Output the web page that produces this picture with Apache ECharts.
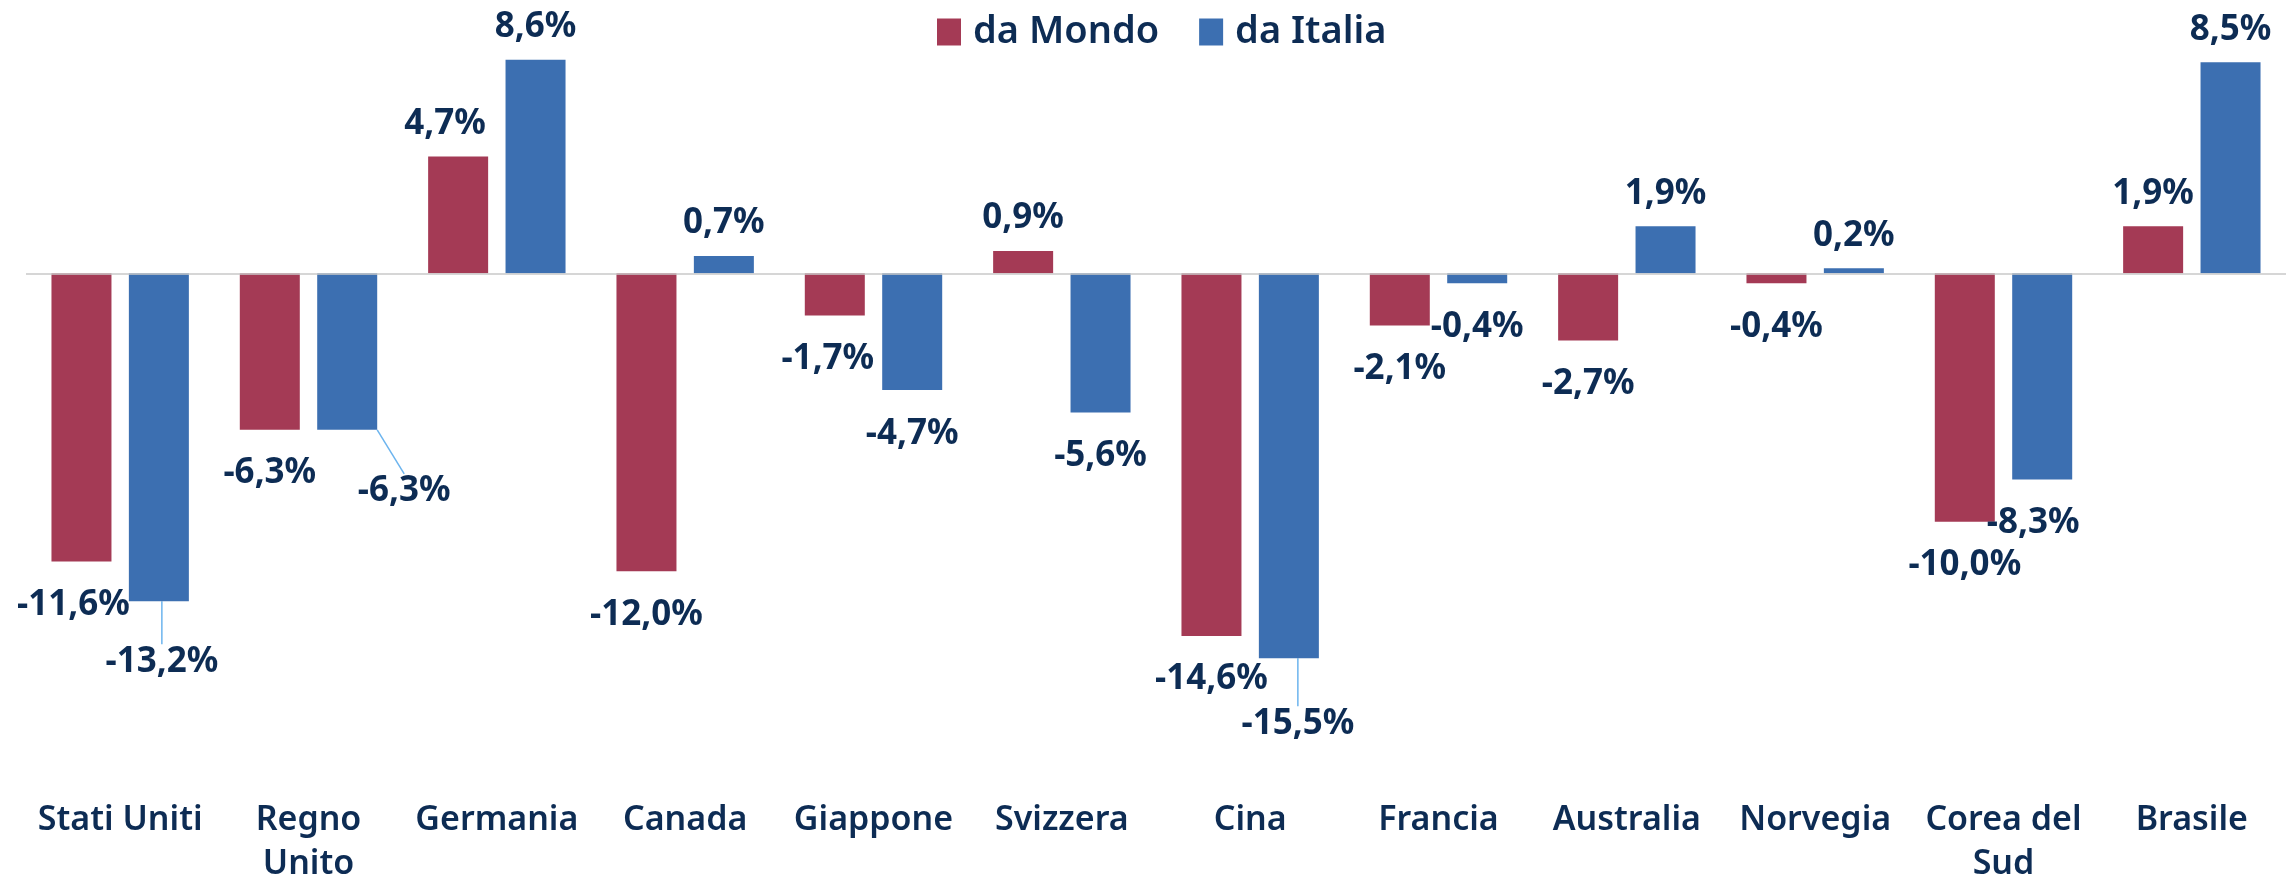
<!DOCTYPE html>
<html>
<head>
<meta charset="utf-8">
<script src="https://cdn.jsdelivr.net/npm/echarts@6/dist/echarts.min.js"></script>
<style>
  html, body { margin: 0; padding: 0; background: #fff; }
  #chart { width: 2293px; height: 876px; }
</style>
</head>
<body>
<div id="chart"></div>
<script>
// dati
var categories = ['Stati Uniti', 'Regno\nUnito', 'Germania', 'Canada', 'Giappone', 'Svizzera',
                  'Cina', 'Francia', 'Australia', 'Norvegia', 'Corea del\nSud', 'Brasile'];
var daMondo  = [-11.6, -6.3, 4.7, -12.0, -1.7, 0.9, -14.6, -2.1, -2.7, -0.4, -10.0, 1.9];
var daItalia = [-13.2, -6.3, 8.6, 0.7, -4.7, -5.6, -15.5, -0.4, 1.9, 0.2, -8.3, 8.5];

var navy = '#0d2c54';
// spostamenti delle etichette (come nell'originale), [dx, dy] in px
var shiftMondo  = { 0: [-8, 0], 2: [-13, 0], 4: [-7, 0] };
var shiftItalia = { 0: [3, 17], 1: [57, 18], 6: [9, 22], 10: [-9, 0] };
var leaderItalia = [0, 1, 6];

function fmt(p) {
    return p.value.toFixed(1).replace('.', ',') + '%';
}

function buildData(values, leaders) {
    return values.map(function (v, i) {
        var item = {
            value: v,
            label: { position: v >= 0 ? 'top' : 'bottom', distance: v >= 0 ? 15 : 26 }
        };
        if (leaders && leaders.indexOf(i) >= 0) {
            item.labelLine = { show: true, lineStyle: { color: '#6cb4ee', width: 1.5 } };
        }
        return item;
    });
}

var labelStyle = {
    show: true,
    formatter: fmt,
    color: navy,
    fontFamily: 'Noto Sans',
    fontWeight: 'bold',
    fontSize: 35
};

var myChart = echarts.init(document.getElementById('chart'));
var option = {
    animation: false,
    legend: {
        top: 8,
        left: 932,
        icon: 'rect',
        itemWidth: 24,
        itemHeight: 27,
        itemGap: 40,
        textStyle: { color: navy, fontSize: 38, fontFamily: 'Noto Sans', fontWeight: 600, padding: [0, 0, 0, 7] },
        data: ['da Mondo', 'da Italia']
    },
    grid: { left: 26, right: 7, top: 25, bottom: 106, outerBoundsMode: 'none' },
    xAxis: {
        type: 'category',
        data: categories,
        axisLine: { show: false, onZero: false },
        axisTick: { show: false },
        axisLabel: {
            margin: 28,
            color: navy,
            fontSize: 34,
            fontFamily: 'Noto Sans',
            fontWeight: 600,
            lineHeight: 44,
            interval: 0
        }
    },
    yAxis: {
        type: 'value',
        min: -20,
        max: 10,
        show: false,
        splitLine: { show: false }
    },
    series: [
        {
            name: 'da Mondo',
            type: 'bar',
            barWidth: 60,
            barGap: '29%',
            itemStyle: { color: '#a43a55' },
            label: labelStyle,
            labelLayout: function (p) {
                var s = shiftMondo[p.dataIndex];
                return s ? { dx: s[0], dy: s[1] } : {};
            },
            data: buildData(daMondo),
            markLine: {
                silent: true,
                symbol: 'none',
                label: { show: false },
                lineStyle: { color: '#c8c8c8', width: 1.5, type: 'solid' },
                data: [{ yAxis: 0 }]
            }
        },
        {
            name: 'da Italia',
            type: 'bar',
            barWidth: 60,
            barGap: '29%',
            itemStyle: { color: '#3c6fb1' },
            label: labelStyle,
            labelLayout: function (p) {
                var s = shiftItalia[p.dataIndex];
                return s ? { dx: s[0], dy: s[1] } : {};
            },
            data: buildData(daItalia, leaderItalia)
        }
    ]
};
myChart.setOption(option);
window.onresize = function () {
    myChart.resize();
};
</script>
</body>
</html>
